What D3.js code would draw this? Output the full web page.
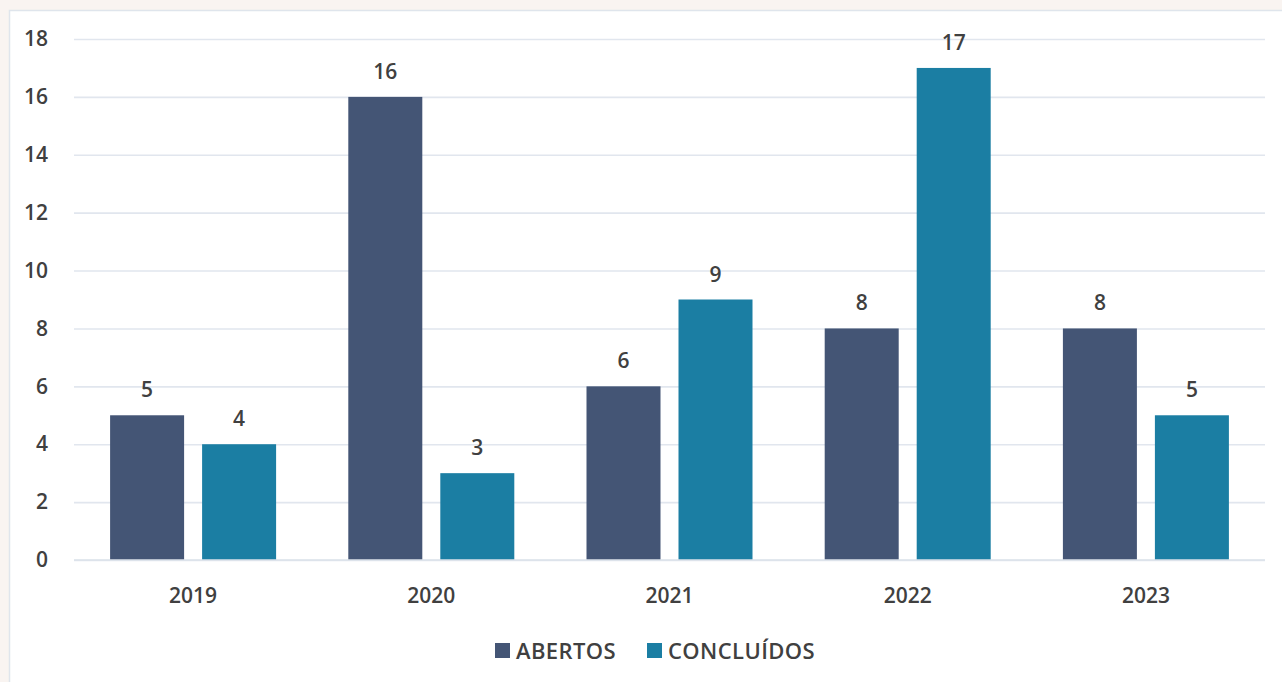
<!DOCTYPE html>
<html>
<head>
<meta charset="utf-8">
<script src="https://cdn.jsdelivr.net/npm/d3@7"></script>
<style>
  html, body { margin: 0; padding: 0; background: #f9f4f1; }
  svg { display: block; }
  text { font-family: "Open Sans", "Noto Sans", sans-serif; font-weight: 600; fill: #404040; }
</style>
</head>
<body>
<svg id="chart" width="1282" height="682"></svg>
<script>
// Processos por ano
const years = ["2019", "2020", "2021", "2022", "2023"];
const seriesNames = ["ABERTOS", "CONCLUÍDOS"];
const abertos = [5, 16, 6, 8, 8];
const concluidos = [4, 3, 9, 17, 5];
const yTicks = [0, 2, 4, 6, 8, 10, 12, 14, 16, 18];
const colors = ["#445575", "#1b7ea3"];

const svg = d3.select("#chart");
const W = 1282, H = 682;

// white panel with thin border on top/left
svg.append("rect").attr("x", 9.5).attr("y", 10.5).attr("width", W).attr("height", H)
  .attr("fill", "#ffffff").attr("stroke", "#dfe5ec").attr("stroke-width", 1.5);

const plotLeft = 74, plotRight = 1265, plotTop = 39, plotBottom = 560;

const x = d3.scaleBand().domain(years).range([plotLeft, plotRight]).padding(0);
const barW = 74, gap = 18;
const y = d3.scaleLinear().domain([0, 18]).range([plotBottom, plotTop]);

// gridlines + y tick labels
const yAxis = d3.axisLeft(y).tickValues(yTicks).tickSize(-(plotRight - plotLeft)).tickPadding(26).tickFormat(d3.format("d"));
const gy = svg.append("g").attr("transform", `translate(${plotLeft},0)`).call(yAxis);
gy.select(".domain").remove();
gy.selectAll(".tick line").attr("stroke", "#e1e6ee").attr("stroke-width", 1.6);
gy.selectAll(".tick text").attr("font-size", 21).attr("fill", "#404040");

const data = years.map((yr, i) => ({ year: yr, values: [abertos[i], concluidos[i]] }));
const groupOffset = (x.bandwidth() - (barW * 2 + gap)) / 2;

const groups = svg.append("g").selectAll("g").data(data).join("g")
  .attr("transform", d => `translate(${x(d.year) + groupOffset},0)`);

groups.selectAll("rect").data(d => d.values.map((v, k) => ({ v, k })))
  .join("rect")
  .attr("x", d => d.k * (barW + gap))
  .attr("width", barW)
  .attr("y", d => y(d.v))
  .attr("height", d => y(0) - y(d.v))
  .attr("fill", d => colors[d.k]);

groups.selectAll("text.val").data(d => d.values.map((v, k) => ({ v, k })))
  .join("text")
  .attr("class", "val")
  .attr("x", d => d.k * (barW + gap) + barW / 2)
  .attr("y", d => y(d.v) - 18)
  .attr("text-anchor", "middle")
  .attr("font-size", 21)
  .text(d => d.v);

// baseline
svg.append("line").attr("x1", plotLeft).attr("x2", plotRight).attr("y1", y(0)).attr("y2", y(0))
  .attr("stroke", "#dbe2ea").attr("stroke-width", 1.6);

// x axis labels
const xAxis = d3.axisBottom(x).tickSize(0).tickPadding(28);
const gx = svg.append("g").attr("transform", `translate(0,${plotBottom})`).call(xAxis);
gx.select(".domain").remove();
gx.selectAll(".tick text").attr("font-size", 21).attr("fill", "#404040");

// legend
const legend = svg.append("g").attr("transform", "translate(495,651)");
const legendX = [0, 152];
seriesNames.forEach((name, k) => {
  const g = legend.append("g").attr("transform", `translate(${legendX[k]},0)`);
  g.append("rect").attr("x", 0).attr("y", -8).attr("width", 15).attr("height", 15).attr("fill", colors[k]);
  g.append("text").attr("x", 21).attr("y", 8).attr("font-size", 22)
    .attr("letter-spacing", 0.4).text(name);
});
</script>
</body>
</html>
